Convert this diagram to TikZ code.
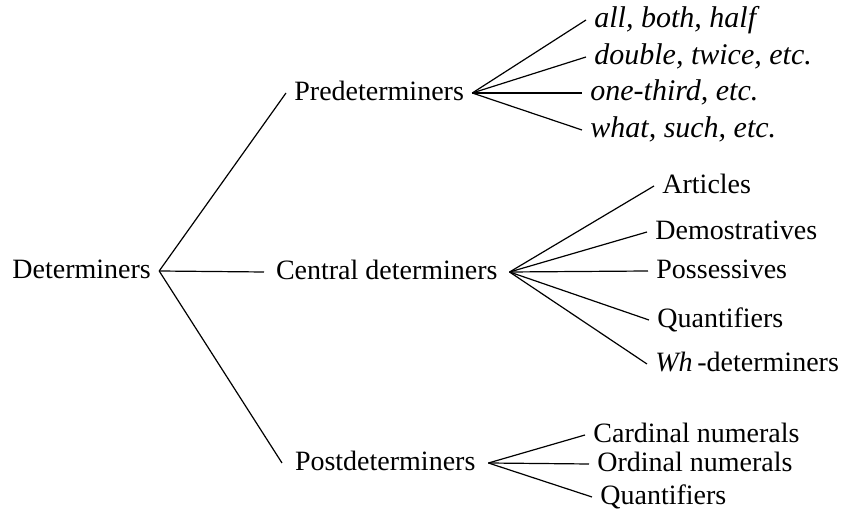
\documentclass[tikz,border=0pt]{standalone}
\usepackage{fontspec}
\setmainfont{Liberation Serif}
\usepackage{tikz}

\begin{document}
\begin{tikzpicture}[x=0.5pt, y=-0.5pt,
		word/.style={anchor=west, inner xsep=4pt, inner ysep=0pt, text height=1.5ex, text depth=0.3ex},
		example/.style={word, font=\itshape\fontsize{15}{17}\selectfont},
		branch/.style={line width=0.6pt}]
			\fontsize{14}{16}\selectfont
			\useasboundingbox (0,0) rectangle (843,513);
			\node[word] (det) at (4,271) {Determiners};

			% Main classes
			\node[word] (pre) at (286,93) {Predeterminers};
			\node[word, outer xsep=2pt] (cen) at (264,272) {Central determiners};
			\node[word, outer xsep=2.5pt] (post) at (282,463) {Postdeterminers};

			% Predeterminers
			\node[example] (all) at (586,20) {all, both, half};
			\node[example] (dbl) at (586,57) {double, twice, etc.};
			\node[example] (third) at (582,93) {one-third, etc.};
			\node[example] (what) at (582,130) {what, such, etc.};

			% Central determiners
			\node[word] (art) at (654,186) {Articles};
			\node[word] (dem) at (647,232) {Demostratives};
			\node[word] (poss) at (648,271) {Possessives};
			\node[word] (quant) at (649,320) {Quantifiers};
			\node[word] (wh) at (647,364) {\textit{Wh}\,-determiners};

			% Postdeterminers
			\node[word] (card) at (585,435) {Cardinal numerals};
			\node[word] (ord) at (589,464) {Ordinal numerals};
			\node[word] (pquant) at (592,497) {Quantifiers};

			% Edges
			\draw[branch] (det.east) -- (pre.west);
			\draw[branch] (det.east) -- (cen.west);
			\draw[branch] (det.east) -- (post.west);
			\draw[branch] (pre.east) -- (all.west);
			\draw[branch] (pre.east) -- (dbl.west);
			\draw[branch] (pre.east) -- (third.west);
			\draw[branch] (pre.east) -- (what.west);
			\draw[branch] (cen.east) -- (art.west);
			\draw[branch] (cen.east) -- (dem.west);
			\draw[branch] (cen.east) -- (poss.west);
			\draw[branch] (cen.east) -- (quant.west);
			\draw[branch] (cen.east) -- (wh.west);
			\draw[branch] (post.east) -- (card.west);
			\draw[branch] (post.east) -- (ord.west);
			\draw[branch] (post.east) -- (pquant.west);
		\end{tikzpicture}
\end{document}
